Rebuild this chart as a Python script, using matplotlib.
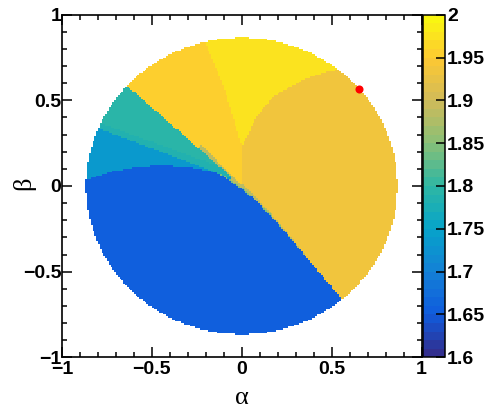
import numpy as np
import matplotlib
matplotlib.use("Agg")
import matplotlib.pyplot as plt
from matplotlib.colors import LinearSegmentedColormap, ListedColormap, BoundaryNorm
from matplotlib.ticker import MultipleLocator, FuncFormatter

# ---- region values of the map (z) ----
z_blue = 1.66
z_cyan = 1.73
z_teal_dark = 1.782
z_teal = 1.795
z_green_edge = 1.84
z_olive = 1.89
z_orange_right = 1.935
z_orange_left = 1.95
z_yellow = 1.97

# best-fit point
best_alpha = [0.652]
best_beta = [0.564]

# allowed domain: alpha^2 + beta^2 <= r_max^2
r_max2 = 0.75

# boundary of the blue domain (beta as a function of alpha)
blue_edge_a = [-0.90, -0.73, -0.566, -0.418, -0.27, -0.158, -0.10, -0.047, 0.009, 0.064, 0.157, 0.25, 0.342, 0.435, 0.528, 0.62]
blue_edge_b = [0.025, 0.083, 0.113, 0.118, 0.105, 0.083, 0.054, 0.016, -0.023, -0.072, -0.169, -0.276, -0.393, -0.51, -0.626, -0.735]

# left edge of the yellow domain (alpha as a function of beta)
yel_left_b = [0.23, 0.58, 0.84, 1.0]
yel_left_a = [0.0, -0.10, -0.204, -0.26]

# right edge of the yellow domain (beta as a function of alpha)
yel_right_a = [0.0, 0.083, 0.175, 0.27, 0.36, 0.45, 0.53, 0.70]
yel_right_b = [0.23, 0.405, 0.52, 0.58, 0.63, 0.66, 0.677, 0.70]

# ---- ROOT kBird palette ----
bird_stops = [0.0, 0.125, 0.25, 0.375, 0.5, 0.625, 0.75, 0.875, 1.0]
bird_r = [0.2082, 0.0592, 0.0780, 0.0232, 0.1802, 0.5301, 0.8186, 0.9956, 0.9764]
bird_g = [0.1664, 0.3599, 0.5041, 0.6419, 0.7178, 0.7492, 0.7328, 0.7862, 0.9832]
bird_b = [0.5293, 0.8684, 0.8385, 0.7914, 0.6425, 0.4662, 0.3499, 0.1968, 0.0539]
bird = LinearSegmentedColormap.from_list(
    "bird", list(zip(bird_stops, zip(bird_r, bird_g, bird_b))))

z_min, z_max, n_levels = 1.6, 2.0, 40
levels = np.linspace(z_min, z_max, n_levels + 1)
cmap = ListedColormap(bird((np.arange(n_levels) + 0.5) / n_levels))
norm = BoundaryNorm(levels, n_levels)

# ---- build the binned map ----
nb = 200
edges = np.linspace(-1, 1, nb + 1)
cen = 0.5 * (edges[:-1] + edges[1:])
A, B = np.meshgrid(cen, cen)
R = np.hypot(A, B)
ang = np.degrees(np.arctan2(B, A))

yb = np.interp(A, blue_edge_a, blue_edge_b)
xl = np.interp(B, yel_left_b, yel_left_a)
yr = np.interp(A, yel_right_a, yel_right_b)

Z = np.full(A.shape, np.nan)
inside = A**2 + B**2 <= r_max2
blue = B < yb
rest = inside & ~blue

# thin transition bands just above the blue domain
band_w = np.clip(0.026 * (1 - A / 0.40), 0, 0.026) * (A > -0.06)
green_w = np.clip(0.008 * (1 - A / 0.30), 0, 0.008) * (A > -0.12)

yellow = rest & (B > 0.23) & (A > xl) & ((A < 0) | (B > yr))
right = rest & ~yellow & (A >= -0.004)
left = rest & ~yellow & ~right

line_teal = 0.069 - 0.376 * A
line_cyan = 0.021 - 0.396 * A

Z[inside & blue] = z_blue
Z[yellow] = z_yellow
Z[right] = z_orange_right

lo = left & (ang < 137.5)
Z[lo] = z_orange_left
Z[lo & (ang > 133.0) & (R < 0.33)] = z_olive
tl = left & (ang >= 137.5)
Z[tl & (B >= line_teal)] = z_teal
Z[tl & (B < line_teal) & (B >= line_cyan)] = z_teal_dark
Z[tl & (B < line_cyan)] = z_cyan

edge_band = rest & ~yellow & (B < yb + band_w)
Z[edge_band] = z_olive
Z[rest & ~yellow & (B < yb + green_w)] = z_green_edge

# ---- figure ----
W, H = 484, 411
fig = plt.figure(figsize=(W / 100, H / 100), dpi=100)
ax = fig.add_axes([62 / W, 1 - 357.3 / H, 359.5 / W, 342.6 / H])
mesh = ax.pcolormesh(edges, edges, np.ma.masked_invalid(Z), cmap=cmap, norm=norm)
ax.plot(best_alpha, best_beta, "o", color="red", markersize=5.8, markeredgewidth=0)

ax.set_xlim(-1, 1)
ax.set_ylim(-1, 1)
for sp in ax.spines.values():
    sp.set_linewidth(1.2)

fmt = FuncFormatter(lambda v, p: ("%g" % v).replace("-", "\u2212"))
tick_font = dict(family="Liberation Sans", weight="bold", size=14)
for axis in (ax.xaxis, ax.yaxis):
    axis.set_major_locator(MultipleLocator(0.5))
    axis.set_minor_locator(MultipleLocator(0.1))
    axis.set_major_formatter(fmt)
ax.tick_params(which="both", direction="in", top=True, right=True, width=1.1)
ax.tick_params(which="major", length=7.5)
ax.tick_params(which="minor", length=3.8)
ax.tick_params(axis="x", pad=3)
ax.tick_params(axis="y", pad=0.5)
for lab in ax.get_xticklabels() + ax.get_yticklabels():
    lab.set_fontproperties(tick_font)

fig.text(241.75 / W, 1 - 398 / H, "\u03b1", ha="center", va="center",
         family="Liberation Serif", fontsize=19)
fig.text(24 / W, 1 - 183 / H, "\u03b2", ha="center", va="center", rotation=90,
         family="Liberation Serif", fontsize=19)

# ---- palette axis ----
cax = fig.add_axes([423 / W, 1 - 357.3 / H, 22 / W, 342.6 / H])
cb = fig.colorbar(mesh, cax=cax, ticks=np.arange(1.6, 2.001, 0.05))
cb.outline.set_linewidth(1.1)
cax.yaxis.set_major_formatter(FuncFormatter(lambda v, p: "%g" % round(v, 2)))
cax.tick_params(direction="in", length=6.5, width=1.1, pad=1.5, right=True, left=False)
cax.minorticks_off()
for lab in cax.get_yticklabels():
    lab.set_fontproperties(tick_font)

fig.savefig("out.png", dpi=100)
